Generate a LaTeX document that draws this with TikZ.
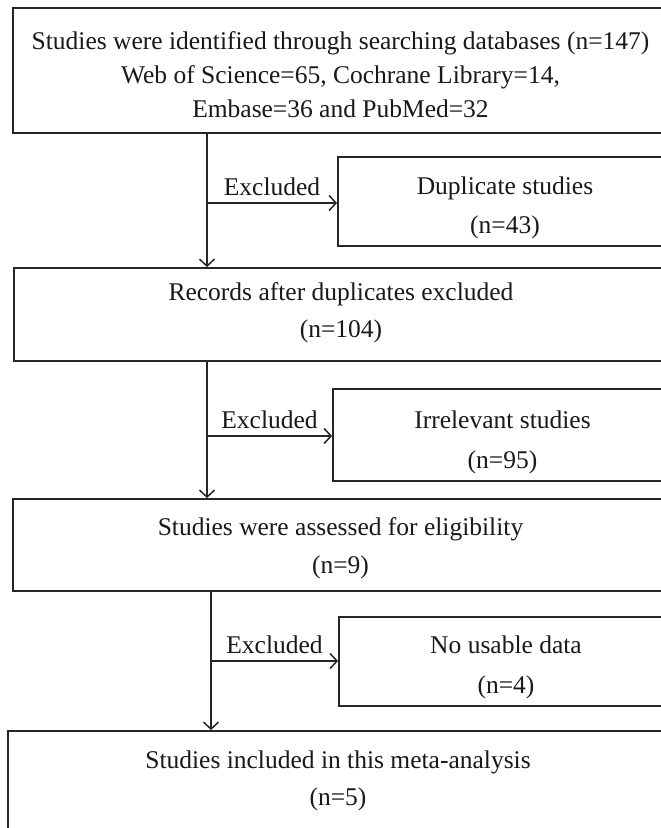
\documentclass[tikz,border=0pt]{standalone}
\usepackage{fontspec}
\setmainfont{Liberation Serif}
\usetikzlibrary{arrows.meta}
\begin{document}
\begin{tikzpicture}[x=1pt,y=-1pt,
  box/.style={draw=black!85,line width=1.8pt,rectangle,inner sep=0pt},
  txt/.style={align=center,inner sep=0pt,text=black!90},
  flow/.style={draw=black!85,line width=1.5pt,-{Straight Barb[length=7pt,width=15pt,line width=1.5pt]}},
  lbl/.style={font=\fontsize{25.5}{28}\selectfont,inner sep=0pt,text=black!90}]
\useasboundingbox (0,0) rectangle (661,828);
\clip (0,0) rectangle (661,828);
\fill[white] (0,0) rectangle (661,828);
% main boxes
\node[box,minimum width=655pt,minimum height=125pt,
  label={[txt,font=\fontsize{25.5}{34}\selectfont,yshift=-4.5pt]center:{Studies were identified through searching databases (n=147)\\Web of Science=65, Cochrane Library=14,\\Embase=36 and PubMed=32}}] (b1) at (340.5,70.5) {};
\node[box,minimum width=654pt,minimum height=93pt,
  label={[txt,font=\fontsize{25.5}{37}\selectfont,yshift=1.5pt]center:{Records after duplicates excluded\\(n=104)}}] (b2) at (341,314.5) {};
\node[box,minimum width=655pt,minimum height=92pt,
  label={[txt,font=\fontsize{25.5}{38}\selectfont,yshift=-3pt]center:{Studies were assessed for eligibility\\(n=9)}}] (b3) at (340.5,545) {};
\node[box,minimum width=660pt,minimum height=140pt] (b4) at (338,801) {};
\node[txt,font=\fontsize{25.5}{37}\selectfont] (t4) at (338,780.5) {Studies included in this meta-analysis\\(n=5)};
% side boxes
\node[box,minimum width=334pt,minimum height=89pt,
  label={[txt,font=\fontsize{25.5}{39.5}\selectfont,yshift=-6.5pt]center:{Duplicate studies\\(n=43)}}] (s1) at (505,201.5) {};
\node[box,minimum width=339pt,minimum height=92pt,
  label={[txt,font=\fontsize{25.5}{40}\selectfont,yshift=-7pt]center:{Irrelevant studies\\(n=95)}}] (s2) at (502.5,435) {};
\node[box,minimum width=334pt,minimum height=89pt,
  label={[txt,font=\fontsize{25.5}{40}\selectfont,yshift=-5.5pt]center:{No usable data\\(n=4)}}] (s3) at (506,661.5) {};
% connectors
\coordinate (j1) at (207,203);
\coordinate (j2) at (207,436);
\coordinate (j3) at (211,661);
\draw[flow] (b1.south -| j1) -- (b2.north -| j1);
\draw[flow] (j1) -- (s1.west |- j1) node[lbl,midway,above=6.5pt] {Excluded};
\draw[flow] (b2.south -| j2) -- (b3.north -| j2);
\draw[flow] (j2) -- (s2.west |- j2) node[lbl,midway,above=6.5pt] {Excluded};
\draw[flow] (b3.south -| j3) -- (b4.north -| j3);
\draw[flow] (j3) -- (s3.west |- j3) node[lbl,midway,above=6.5pt] {Excluded};
\end{tikzpicture}
\end{document}
